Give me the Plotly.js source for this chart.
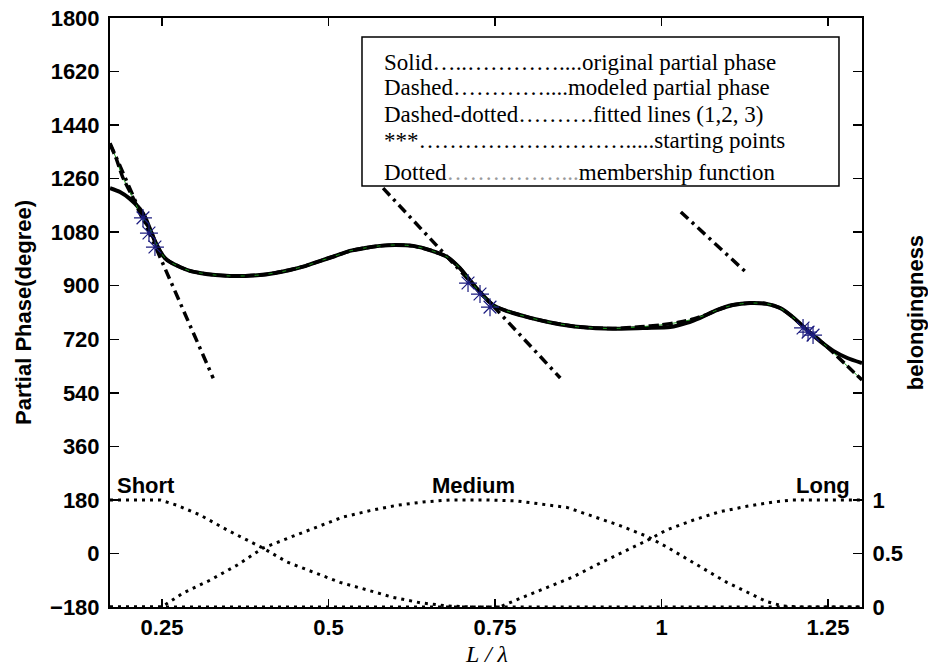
<!DOCTYPE html>
<html>
<head>
<meta charset="utf-8">
<script src="https://cdn.plot.ly/plotly-3.0.1.min.js"></script>
<style>html,body{margin:0;padding:0;background:#fff;}#chart{width:928px;height:670px;}</style>
</head>
<body>
<div id="chart"></div>
<script>
// ---- data ----
const xSolid = [0.172,0.187,0.202,0.217,0.2245,0.232,0.2395,0.247,0.2545,0.262,0.277,0.292,0.307,0.330,0.352,0.375,0.397,0.420,0.442,0.465,0.487,0.510,0.532,0.555,0.577,0.600,0.627,0.652,0.678,0.697,0.712,0.727,0.747,0.768,0.803,0.837,0.878,0.927,0.978,1.013,1.038,1.058,1.083,1.107,1.133,1.158,1.178,1.197,1.218,1.238,1.258,1.279,1.301];
const ySolid = [1228,1215,1192,1158,1131,1091,1050,1017,993,980,963,950,943,936,933,933,936,943,953,966,983,1000,1017,1027,1034,1037,1034,1020,997,960,919,879,835,815,792,775,761,755,758,761,775,792,818,835,842,839,825,795,752,714,681,657,640];

const xModel = [0.172,0.181,0.191,0.206,0.221,0.232,0.2395,0.247,0.2545,0.262,0.277,0.292,0.307,0.330,0.352,0.375,0.397,0.420,0.442,0.465,0.487,0.510,0.532,0.555,0.577,0.600,0.627,0.652,0.678,0.697,0.712,0.727,0.747,0.768,0.803,0.837,0.878,0.927,0.968,0.998,1.028,1.048,1.068,1.083,1.107,1.133,1.158,1.178,1.197,1.218,1.238,1.258,1.279,1.301];
const yModel = [1375,1330,1265,1198,1125,1091,1050,1017,993,980,963,950,943,936,933,933,936,943,953,966,983,1000,1017,1027,1034,1037,1034,1020,997,960,919,879,835,815,792,775,761,756,762,768,778,788,803,818,835,842,839,825,795,752,716,675,630,583];

const xFit1 = [0.172,0.327];
const yFit1 = [1379,589];
const xFit2 = [0.582,0.848];
const yFit2 = [1228,590];
const xFit3 = [1.029,1.128];
const yFit3 = [1148,943];

const xStart = [0.2215,0.2305,0.2395,0.7095,0.7275,0.7425,1.2125,1.220,1.2275];
const yStart = [1128,1077,1030,909,872,828,758,744,734];

const xShort = [0.172,0.247,0.2725,0.307,0.3476,0.3776,0.4017,0.4377,0.4767,0.5173,0.5578,0.5968,0.6374,0.6779,0.717,1.301];
const yShort = [1,1,0.95,0.86,0.72,0.63,0.55,0.42,0.33,0.23,0.16,0.09,0.04,0.01,0,0];
const xMedium = [0.172,0.25,0.2815,0.322,0.3626,0.4017,0.4422,0.4827,0.5218,0.5623,0.6029,0.6419,0.6824,0.732,0.783,0.858,0.897,0.9377,0.978,1.008,1.038,1.068,1.098,1.128,1.158,1.182,1.208,1.301];
const yMedium = [0,0,0.13,0.25,0.39,0.55,0.65,0.75,0.84,0.90,0.95,0.98,1,1,0.99,0.93,0.85,0.76,0.66,0.56,0.45,0.34,0.23,0.14,0.05,0.01,0,0];
const xLong = [0.172,0.757,0.7876,0.828,0.867,0.9077,0.948,0.978,1.008,1.047,1.0878,1.128,1.1674,1.197,1.301];
const yLong = [0,0,0.08,0.18,0.28,0.41,0.53,0.62,0.72,0.81,0.89,0.94,0.98,1,1];

const xTickVals = [0.25,0.5,0.75,1,1.25];
const xTickText = ['0.25','0.5','0.75','1','1.25'];
const y2TickVals = [0,0.5,1];
const y2TickText = ['0','0.5','1'];

const mfLabels = ['Short','Medium','Long'];
const mfLabelX = [0.226,0.717,1.2425];

const legendRows = [
  'Solid…..…………....original partial phase',
  'Dashed…………....modeled partial phase',
  'Dashed-dotted……….fitted lines (1,2, 3)',
  '***……………………….....starting points',
  'Dotted<span style="color:#9a9a9a">……………...</span>membership function'
];
const legendRowY = [0.9236,0.8812,0.8370,0.7912,0.7385];

const xTitle = 'L / λ';

// ---- traces ----
const SANS = 'Liberation Sans, Arial, sans-serif';
const SERIF = 'Liberation Serif, Times New Roman, serif';
const dotted = {color:'#000', width:3, dash:'3px,5px'};

const traces = [
  {x:xFit1, y:yFit1, mode:'lines', line:{color:'#000', width:3.5, dash:'10px,5px,3px,5px'}, hoverinfo:'skip'},
  {x:xFit2, y:yFit2, mode:'lines', line:{color:'#000', width:3.5, dash:'10px,5px,3px,5px'}, hoverinfo:'skip'},
  {x:xFit3, y:yFit3, mode:'lines', line:{color:'#000', width:3.5, dash:'10px,5px,3px,5px'}, hoverinfo:'skip'},
  {x:xSolid, y:ySolid, mode:'lines', line:{color:'#000', width:4, shape:'spline', smoothing:0.6}},
  {x:xModel, y:yModel, mode:'lines', line:{color:'#1a9a1a', width:1, shape:'spline', smoothing:0.6}},
  {x:xModel, y:yModel, mode:'lines', line:{color:'#000', width:3.5, dash:'10px,4px', shape:'spline', smoothing:0.6}},
  {x:xStart, y:yStart, mode:'markers', marker:{symbol:'asterisk-open', size:15, color:'#1c1c80', line:{color:'#1c1c80', width:1.2}}},
  {x:xShort, y:yShort, yaxis:'y2', mode:'lines', line:dotted},
  {x:xMedium, y:yMedium, yaxis:'y2', mode:'lines', line:dotted},
  {x:xLong, y:yLong, yaxis:'y2', mode:'lines', line:dotted}
];

const tickFont = {family:SANS, size:22, color:'#000', weight:'bold'};

const annotations = [];
mfLabels.forEach((t,i)=>{
  annotations.push({xref:'x', yref:'paper', x:mfLabelX[i], y:0.2071, text:t, showarrow:false,
    xanchor:'center', yanchor:'middle', font:{family:SANS, size:22, color:'#000', weight:'bold'}});
});
legendRows.forEach((t,i)=>{
  annotations.push({xref:'paper', yref:'paper', x:0.3617, y:legendRowY[i], text:t, showarrow:false,
    xanchor:'left', yanchor:'middle', align:'left', font:{family:SERIF, size:23, color:'#000'}});
});
annotations.push({xref:'paper', yref:'paper', x:0.5, y:-0.0798, text:xTitle, showarrow:false,
  xanchor:'center', yanchor:'middle', borderpad:0, font:{family:SERIF, size:24, color:'#000', style:'italic'}});

const layout = {
  width:928, height:670,
  margin:{l:110, r:66, t:18, b:63, pad:0},
  paper_bgcolor:'#fff', plot_bgcolor:'#fff',
  showlegend:false,
  xaxis:{
    range:[0.172,1.301], tickvals:xTickVals, ticktext:xTickText,
    ticks:'inside', ticklen:8, tickwidth:1.5, tickcolor:'#000',
    showline:true, linecolor:'#000', linewidth:2, mirror:'ticks',
    showgrid:false, zeroline:false, tickfont:tickFont, ticklabelstandoff:0
  },
  yaxis:{
    range:[-180,1800], tick0:-180, dtick:180,
    ticks:'inside', ticklen:9, tickwidth:1.5, tickcolor:'#000',
    showline:true, linecolor:'#000', linewidth:2, mirror:'ticks',
    showgrid:false, zeroline:false, tickfont:tickFont, ticklabelstandoff:4,
    title:{text:'Partial Phase(degree)', font:{family:SANS, size:22, color:'#000', weight:'bold'}, standoff:12}
  },
  yaxis2:{
    overlaying:'y', side:'right', range:[0,5.5], tickvals:y2TickVals, ticktext:y2TickText,
    ticks:'inside', ticklen:8, tickwidth:1.5, tickcolor:'#000',
    showline:true, linecolor:'#000', linewidth:2,
    showgrid:false, zeroline:false, tickfont:tickFont, ticklabelstandoff:4,
    title:{text:'belongingness', font:{family:SANS, size:22, color:'#000', weight:'bold'}, standoff:8}
  },
  shapes:[
    {type:'rect', xref:'paper', yref:'paper', x0:0.3351, x1:0.9694, y0:0.7148, y1:0.9677,
     fillcolor:'#fff', line:{color:'#000', width:1.5}, layer:'above'}
  ],
  annotations:annotations
};

Plotly.newPlot('chart', traces, layout, {displayModeBar:false, staticPlot:true});
</script>
</body>
</html>
